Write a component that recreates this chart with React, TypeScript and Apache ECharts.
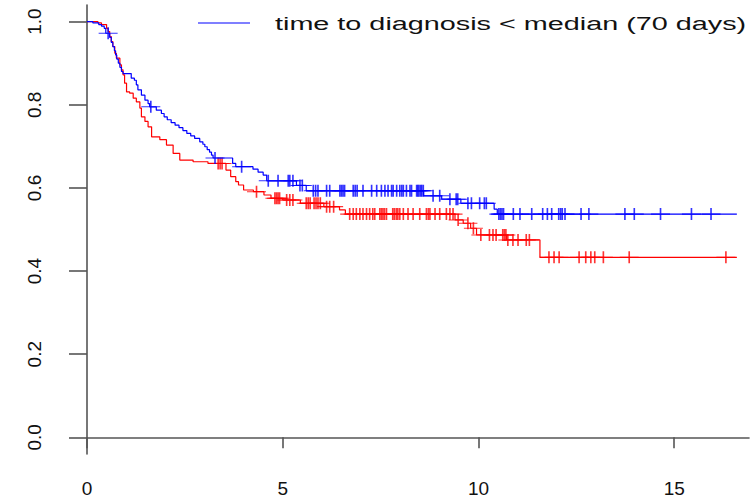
import React, { useEffect, useRef } from "react";
import * as echarts from "echarts";

// Kaplan-Meier step data (time in years, survival after the drop)
const blueTimes = [0.15, 0.30, 0.37, 0.44, 0.48, 0.58, 0.62, 0.66, 0.70, 0.73, 0.76, 0.80, 0.84, 0.88, 0.92, 1.13, 1.21, 1.26, 1.30, 1.39, 1.48, 1.56, 1.60, 1.77, 1.90, 1.97, 2.05, 2.15, 2.25, 2.35, 2.45, 2.55, 2.65, 2.75, 2.88, 2.96, 3.01, 3.07, 3.13, 3.18, 3.22, 3.72, 3.80, 4.24, 4.37, 4.50, 4.59, 5.35, 5.60, 8.60, 9.06, 9.55, 10.40, 10.48];
const blueSurv = [0.997, 0.993, 0.989, 0.984, 0.972, 0.962, 0.950, 0.940, 0.930, 0.920, 0.910, 0.900, 0.890, 0.880, 0.875, 0.864, 0.859, 0.848, 0.836, 0.823, 0.811, 0.803, 0.795, 0.787, 0.779, 0.771, 0.764, 0.757, 0.751, 0.745, 0.738, 0.731, 0.725, 0.719, 0.711, 0.705, 0.699, 0.692, 0.686, 0.679, 0.672, 0.659, 0.651, 0.645, 0.638, 0.631, 0.617, 0.606, 0.593, 0.581, 0.573, 0.563, 0.549, 0.537];
const blueCensor = [0.54, 1.63, 3.27, 3.95, 4.63, 4.88, 5.14, 5.18, 5.26, 5.44, 5.50, 5.78, 5.84, 5.90, 6.12, 6.20, 6.46, 6.50, 6.54, 6.58, 6.80, 6.85, 6.90, 7.05, 7.27, 7.40, 7.52, 7.61, 7.69, 7.78, 7.82, 7.91, 7.99, 8.04, 8.08, 8.16, 8.25, 8.29, 8.42, 8.45, 8.48, 8.52, 8.55, 8.59, 8.84, 9.01, 9.27, 9.43, 9.47, 9.73, 9.82, 10.03, 10.15, 10.20, 10.52, 10.56, 10.60, 10.64, 10.89, 11.06, 11.36, 11.64, 11.76, 11.87, 12.05, 12.10, 12.14, 12.21, 12.62, 12.82, 13.74, 13.98, 14.65, 15.44, 15.94];
const blueEnd = 16.6;

const redTimes = [0.28, 0.37, 0.50, 0.54, 0.58, 0.62, 0.66, 0.71, 0.75, 0.84, 0.88, 0.92, 0.96, 1.01, 1.09, 1.18, 1.26, 1.35, 1.39, 1.48, 1.56, 1.65, 1.86, 2.03, 2.20, 2.37, 2.71, 3.09, 3.55, 3.67, 3.80, 3.87, 4.00, 4.25, 4.52, 4.70, 5.00, 5.45, 6.05, 6.45, 6.60, 9.40, 9.61, 9.80, 9.95, 10.72, 11.57];
const redSurv = [0.997, 0.993, 0.984, 0.976, 0.964, 0.952, 0.940, 0.924, 0.912, 0.896, 0.884, 0.872, 0.852, 0.831, 0.828, 0.816, 0.807, 0.792, 0.771, 0.760, 0.747, 0.723, 0.716, 0.703, 0.683, 0.667, 0.663, 0.659, 0.643, 0.627, 0.615, 0.607, 0.595, 0.591, 0.583, 0.575, 0.571, 0.563, 0.555, 0.547, 0.537, 0.523, 0.515, 0.503, 0.487, 0.475, 0.433];
const redCensor = [3.35, 3.40, 3.45, 4.33, 4.80, 4.84, 4.88, 4.92, 5.10, 5.18, 5.26, 5.60, 5.65, 5.70, 5.80, 5.85, 5.90, 5.96, 6.12, 6.20, 6.30, 6.71, 6.80, 6.88, 6.97, 7.05, 7.14, 7.22, 7.30, 7.35, 7.48, 7.52, 7.56, 7.60, 7.65, 7.81, 7.85, 7.90, 7.94, 7.99, 8.08, 8.20, 8.33, 8.50, 8.67, 8.72, 8.76, 8.89, 9.01, 9.18, 9.27, 9.35, 9.48, 9.73, 9.87, 10.06, 10.28, 10.37, 10.45, 10.62, 10.66, 10.70, 10.75, 10.88, 11.01, 11.22, 11.30, 11.80, 11.93, 12.06, 12.57, 12.74, 12.87, 12.97, 13.19, 13.85, 16.32];
const redEnd = 16.6;

const xTicks = [0, 5, 10, 15];
const yTicks = [0, 0.2, 0.4, 0.6, 0.8, 1.0];
const legendLabel = "time to diagnosis < median (70 days)";

function stepData(times: number[], surv: number[], end: number) {
  const d: number[][] = [[0, 1]];
  times.forEach((t, i) => d.push([t, surv[i]]));
  d.push([end, surv[surv.length - 1]]);
  return d;
}
function survAt(times: number[], surv: number[], t: number) {
  let s = 1;
  for (let i = 0; i < times.length; i++) if (times[i] <= t) s = surv[i];
  return s;
}
function censorData(times: number[], surv: number[], cens: number[]) {
  return cens.map((t) => [t, survAt(times, surv, t)]);
}

const PLUS = "path://M0,5L10,5M5,0L5,10";
const FONT = "'Liberation Sans', Arial, Helvetica, sans-serif";

export default function App() {
  const ref = useRef<HTMLDivElement>(null);
  useEffect(() => {
    if (!ref.current) return;
    const chart = echarts.init(ref.current, undefined, { renderer: "svg" });
    const axisColor = "#555";
    chart.setOption({
      animation: false,
      backgroundColor: "#fff",
      grid: { left: 87, right: 2, top: 5, bottom: 44 },
      xAxis: {
        type: "value",
        min: 0,
        max: 16.91,
        splitLine: { show: false },
        axisLine: { show: true, lineStyle: { color: axisColor, width: 1.6 } },
        axisTick: { show: true, length: 11, customValues: xTicks, lineStyle: { color: axisColor, width: 1.6 } },
        axisLabel: {
          customValues: xTicks,
          margin: 25,
          fontSize: 19,
          fontFamily: FONT,
          color: "#111",
        },
      },
      yAxis: {
        type: "value",
        min: -0.04,
        max: 1.04,
        splitLine: { show: false },
        axisLine: { show: true, lineStyle: { color: axisColor, width: 1.6 } },
        axisTick: { show: true, length: 18, customValues: yTicks, lineStyle: { color: axisColor, width: 1.6 } },
        axisLabel: {
          customValues: yTicks,
          rotate: 90,
          margin: 43,
          fontSize: 19,
          fontFamily: FONT,
          color: "#111",
          formatter: (v: number) => v.toFixed(1),
        },
      },
      series: [
        {
          name: "blue",
          type: "line",
          step: "end",
          showSymbol: false,
          data: stepData(blueTimes, blueSurv, blueEnd),
          lineStyle: { color: "#0000ff", width: 1.2 },
          z: 3,
        },
        {
          name: "red",
          type: "line",
          step: "end",
          showSymbol: false,
          data: stepData(redTimes, redSurv, redEnd),
          lineStyle: { color: "#ff0000", width: 1.2 },
          z: 2,
        },
        {
          type: "scatter",
          symbol: PLUS,
          symbolSize: [19, 12],
          data: censorData(blueTimes, blueSurv, blueCensor),
          itemStyle: { color: "none", borderColor: "#0000ff", borderWidth: 1.3 },
          z: 3,
        },
        {
          type: "scatter",
          symbol: PLUS,
          symbolSize: [19, 12],
          data: censorData(redTimes, redSurv, redCensor),
          itemStyle: { color: "none", borderColor: "#ff0000", borderWidth: 1.3 },
          z: 2,
        },
      ],
      graphic: [
        {
          type: "line",
          shape: { x1: 198, y1: 23, x2: 250, y2: 23 },
          style: { stroke: "#0000ff", lineWidth: 1.2 },
        },
        {
          type: "text",
          x: 275,
          y: 24,
          scaleX: 1.6,
          style: {
            text: legendLabel,
            fontSize: 18,
            fontFamily: FONT,
            fill: "#111",
            align: "left",
            verticalAlign: "middle",
          },
        },
      ],
    });
    return () => chart.dispose();
  }, []);
  return <div ref={ref} style={{ width: 751, height: 498, position: "absolute", left: 0, top: 0 }} />;
}
